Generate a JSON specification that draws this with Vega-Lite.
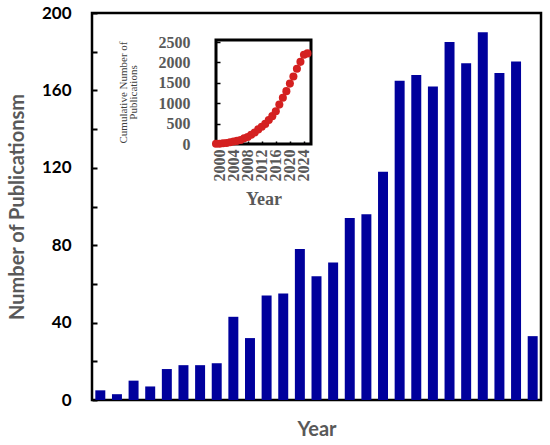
{
  "$schema": "https://vega.github.io/schema/vega-lite/v6.json",
  "width": 449,
  "height": 387,
  "autosize": "none",
  "padding": {"left": 92, "top": 13, "right": 9, "bottom": 45},
  "config": {"view": {"stroke": "black", "strokeWidth": 2.5}},
  "data": {
    "values": [
      {"year": 1999, "count": 5, "cum": 5},
      {"year": 2000, "count": 3, "cum": 8},
      {"year": 2001, "count": 10, "cum": 18},
      {"year": 2002, "count": 7, "cum": 25},
      {"year": 2003, "count": 16, "cum": 41},
      {"year": 2004, "count": 18, "cum": 59},
      {"year": 2005, "count": 18, "cum": 77},
      {"year": 2006, "count": 19, "cum": 96},
      {"year": 2007, "count": 43, "cum": 139},
      {"year": 2008, "count": 32, "cum": 171},
      {"year": 2009, "count": 54, "cum": 225},
      {"year": 2010, "count": 55, "cum": 280},
      {"year": 2011, "count": 78, "cum": 358},
      {"year": 2012, "count": 64, "cum": 422},
      {"year": 2013, "count": 71, "cum": 493},
      {"year": 2014, "count": 94, "cum": 587},
      {"year": 2015, "count": 96, "cum": 683},
      {"year": 2016, "count": 118, "cum": 801},
      {"year": 2017, "count": 165, "cum": 966},
      {"year": 2018, "count": 168, "cum": 1134},
      {"year": 2019, "count": 162, "cum": 1296},
      {"year": 2020, "count": 185, "cum": 1481},
      {"year": 2021, "count": 174, "cum": 1655},
      {"year": 2022, "count": 190, "cum": 1845},
      {"year": 2023, "count": 169, "cum": 2014},
      {"year": 2024, "count": 175, "cum": 2189},
      {"year": 2025, "count": 33, "cum": 2222}
    ]
  },
  "layer": [
    {
      "mark": {"type": "bar", "color": "#00009c"},
      "encoding": {
        "x": {
          "field": "year",
          "type": "ordinal",
          "scale": {"paddingInner": 0.4, "paddingOuter": 0.2},
          "axis": {
            "title": "Year",
            "labels": false,
            "ticks": false,
            "domain": false,
            "titleFont": "Lato",
            "titleFontSize": 20,
            "titleFontWeight": "bold",
            "titleColor": "#595959",
            "titlePadding": 19
          }
        },
        "y": {
          "field": "count",
          "type": "quantitative",
          "scale": {"domain": [0, 200], "nice": false},
          "axis": {
            "values": [0, 20, 40, 60, 80, 100, 120, 140, 160, 180, 200],
            "labelExpr": "datum.value % 40 === 0 ? datum.label : ''",
            "labelOverlap": false,
            "labelFont": "Lato",
            "labelFontSize": 17,
            "labelFontWeight": "bold",
            "labelColor": "black",
            "labelPadding": 26,
            "tickSize": -5,
            "tickWidth": 2,
            "tickColor": "black",
            "domain": false,
            "grid": false,
            "title": "Number of Publicationsm",
            "titleFont": "Lato",
            "titleFontSize": 20,
            "titleFontWeight": "bold",
            "titleColor": "#595959",
            "titlePadding": 14
          }
        }
      }
    },
    {
      "layer": [
        {
          "data": {"values": [{}]},
          "mark": {"type": "rect", "fill": "transparent", "stroke": "black", "strokeWidth": 3},
          "encoding": {
            "x": {"datum": 1999, "type": "quantitative"},
            "x2": {"datum": 2026},
            "y": {"datum": 0, "type": "quantitative"},
            "y2": {"datum": 2550}
          }
        },
        {
          "mark": {"type": "point", "filled": true, "size": 65, "color": "#d42020", "opacity": 1},
          "encoding": {
            "x": {
              "field": "year",
              "type": "quantitative",
              "scale": {"domain": [1999, 2026], "range": [124, 219], "nice": false, "zero": false},
              "axis": {
                "orient": "bottom",
                "offset": -256,
                "values": [2000, 2001, 2002, 2003, 2004, 2005, 2006, 2007, 2008, 2009, 2010, 2011, 2012, 2013, 2014, 2015, 2016, 2017, 2018, 2019, 2020, 2021, 2022, 2023, 2024, 2025],
                "labelExpr": "datum.value % 4 === 0 ? '' + datum.value : ''",
                "labelOverlap": false,
                "labelAngle": 270,
                "labelAlign": "right",
                "labelBaseline": "middle",
                "labelFont": "Liberation Serif",
                "labelFontSize": 16,
                "labelFontWeight": "bold",
                "labelColor": "#595959",
                "labelPadding": 8,
                "tickSize": -3,
                "tickWidth": 1.5,
                "tickColor": "black",
                "domain": false,
                "grid": false,
                "title": "Year",
                "titleFont": "Liberation Serif",
                "titleFontSize": 18,
                "titleFontWeight": "bold",
                "titleColor": "#595959",
                "titlePadding": 9
              }
            },
            "y": {
              "field": "cum",
              "type": "quantitative",
              "scale": {"domain": [0, 2550], "range": [131, 27], "nice": false},
              "axis": {
                "orient": "left",
                "offset": -124,
                "values": [0, 250, 500, 750, 1000, 1250, 1500, 1750, 2000, 2250, 2500],
                "labelExpr": "datum.value % 500 === 0 ? '' + datum.value : ''",
                "labelOverlap": false,
                "labelFont": "Liberation Serif",
                "labelFontSize": 16,
                "labelFontWeight": "bold",
                "labelColor": "#595959",
                "labelPadding": 30,
                "tickSize": -4,
                "tickWidth": 1.5,
                "tickColor": "black",
                "domain": false,
                "grid": false,
                "title": ["Cumulative Number of", "Publications"],
                "titleFont": "Liberation Serif",
                "titleFontSize": 11,
                "titleFontWeight": "normal",
                "titleColor": "#404040",
                "titleLineHeight": 10,
                "titlePadding": 20
              }
            }
          }
        }
      ]
    }
  ],
  "resolve": {
    "scale": {"x": "independent", "y": "independent"},
    "axis": {"x": "independent", "y": "independent"}
  }
}
